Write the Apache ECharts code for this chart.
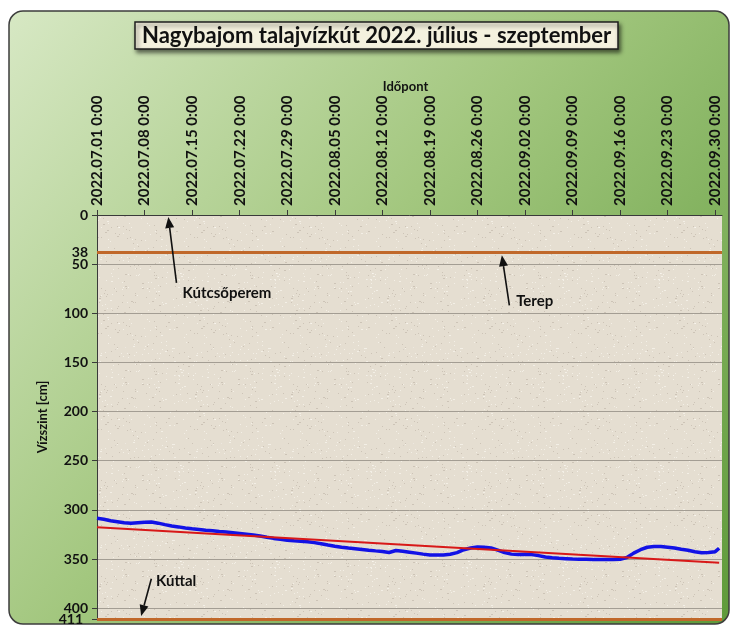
<!DOCTYPE html>
<html>
<head>
  <meta charset="utf-8" />
  <title>Nagybajom talajvízkút</title>
  <script src="https://cdn.jsdelivr.net/npm/echarts@6.0.0/dist/echarts.min.js"></script>
</head>
<style>
  body { margin: 0; padding: 0; overflow: hidden; background: #fff; }
</style>
<body>
  <div id="main" style="width: 730px; height: 631px;"></div>
  <script type="text/javascript">
    // --- adatok ---
    const startDate = '2022.07.01 0:00';
    const endDate = '2022.10.01 0:00';

    // napi vízszint mérések (cm a kútcsőperemtől)
    const levelTimes = [
      '2022.07.01 0:00', '2022.07.02 0:00', '2022.07.03 0:00', '2022.07.04 0:00', '2022.07.05 0:00', '2022.07.06 0:00', '2022.07.07 0:00', '2022.07.08 0:00',
      '2022.07.09 0:00', '2022.07.10 0:00', '2022.07.11 0:00', '2022.07.12 0:00', '2022.07.13 0:00', '2022.07.14 0:00', '2022.07.15 0:00', '2022.07.16 0:00',
      '2022.07.17 0:00', '2022.07.18 0:00', '2022.07.19 0:00', '2022.07.20 0:00', '2022.07.21 0:00', '2022.07.22 0:00', '2022.07.23 0:00', '2022.07.24 0:00',
      '2022.07.25 0:00', '2022.07.26 0:00', '2022.07.27 0:00', '2022.07.28 0:00', '2022.07.29 0:00', '2022.07.30 0:00', '2022.07.31 0:00',
      '2022.08.01 0:00', '2022.08.02 0:00', '2022.08.03 0:00', '2022.08.04 0:00', '2022.08.05 0:00', '2022.08.06 0:00', '2022.08.07 0:00', '2022.08.08 0:00',
      '2022.08.09 0:00', '2022.08.10 0:00', '2022.08.11 0:00', '2022.08.12 0:00', '2022.08.13 0:00', '2022.08.14 0:00', '2022.08.15 0:00', '2022.08.16 0:00',
      '2022.08.17 0:00', '2022.08.18 0:00', '2022.08.19 0:00', '2022.08.20 0:00', '2022.08.21 0:00', '2022.08.22 0:00', '2022.08.23 0:00', '2022.08.24 0:00',
      '2022.08.25 0:00', '2022.08.26 0:00', '2022.08.27 0:00', '2022.08.28 0:00', '2022.08.29 0:00', '2022.08.30 0:00', '2022.08.31 0:00',
      '2022.09.01 0:00', '2022.09.02 0:00', '2022.09.03 0:00', '2022.09.04 0:00', '2022.09.05 0:00', '2022.09.06 0:00', '2022.09.07 0:00', '2022.09.08 0:00',
      '2022.09.09 0:00', '2022.09.10 0:00', '2022.09.11 0:00', '2022.09.12 0:00', '2022.09.13 0:00', '2022.09.14 0:00', '2022.09.15 0:00', '2022.09.16 0:00',
      '2022.09.17 0:00', '2022.09.18 0:00', '2022.09.19 0:00', '2022.09.20 0:00', '2022.09.21 0:00', '2022.09.22 0:00', '2022.09.23 0:00', '2022.09.24 0:00',
      '2022.09.25 0:00', '2022.09.26 0:00', '2022.09.27 0:00', '2022.09.28 0:00', '2022.09.29 0:00', '2022.09.30 0:00', '2022.09.30 14:00'
    ];
    const levelCm = [
      308.5, 309.5, 311, 312, 313, 313.5, 313, 312.5, 312.3, 313.5, 315, 316.4, 317.3, 318.5, 319.3, 320,
      320.7, 321.3, 322, 322.6, 323.3, 324, 324.7, 325.5, 326.5, 327.8, 329, 330, 330.8, 331.5, 332,
      332.5, 333.3, 334.5, 335.8, 337, 338, 338.8, 339.5, 340.2, 341, 341.7, 342.3, 343.3, 341.3, 342, 343,
      344, 345, 345.8, 346, 345.8, 345.2, 343.5, 340.5, 338.8, 337.8, 338, 338.8, 341, 343.5, 345,
      345.3, 345.2, 345.5, 346.5, 348, 348.8, 349.3, 349.6, 350, 350.2, 350.3, 350.4, 350.5, 350.5, 350.4, 350.3,
      348.5, 344, 340.5, 338, 337.2, 337.2, 338, 338.8, 340, 341, 342.5, 343.5, 343.3, 342.5, 339
    ];

    // lineáris trend
    const trendTimes = ['2022.07.01 0:00', '2022.09.30 14:00'];
    const trendCm = [317.7, 353.7];

    // referencia szintek
    const refNames = ['Kútcsőperem', 'Terep', 'Kúttal'];
    const refCm = [0, 38, 411];

    // y tengely feliratai (a 411-et a vonal címkéje írja ki)
    const yLabels = [0, 38, 50, 100, 150, 200, 250, 300, 350, 400];

    // feliratok + nyilak: [szöveg helye], [nyíl vége], [nyíl hegye] (nap, cm)
    const notes = [
      { text: 'Kútcsőperem', at: [12.6, 80], from: [11.7, 69], to: [10.5, 2] },
      { text: 'Terep', at: [61.7, 88], from: [60.7, 92], to: [59.6, 41] },
      { text: 'Kúttal', at: [8.7, 372], from: [8.0, 370], to: [6.5, 408] }
    ];

    // --- segédfüggvények ---
    function parseT(s) {
      const [d, t] = s.split(' ');
      const [y, m, dd] = d.split('.').map(Number);
      const [h, mi] = t.split(':').map(Number);
      return Date.UTC(y, m - 1, dd, h, mi);
    }
    const t0 = parseT(startDate);
    const toDay = s => (parseT(s) - t0) / 86400000;
    const pad = n => (n < 10 ? '0' : '') + n;
    function dayLabel(v) {
      if (Math.abs(v % 7) > 1e-6) return '';
      const d = new Date(t0 + v * 86400000);
      return d.getUTCFullYear() + '.' + pad(d.getUTCMonth() + 1) + '.' + pad(d.getUTCDate()) + ' 0:00';
    }

    // homokos háttér minta
    function sandPattern() {
      const c = document.createElement('canvas');
      c.width = 96; c.height = 96;
      const g = c.getContext('2d');
      g.fillStyle = '#e5ded1';
      g.fillRect(0, 0, 96, 96);
      let s = 7;
      const rnd = () => (s = (s * 16807) % 2147483647) / 2147483647;
      for (let i = 0; i < 260; i++) {
        const light = rnd() > 0.5;
        g.fillStyle = light ? 'rgba(250,247,240,0.7)' : 'rgba(160,150,135,0.35)';
        g.fillRect(Math.floor(rnd() * 96), Math.floor(rnd() * 96), 1 + (rnd() > 0.85 ? 1 : 0), 1);
      }
      return c;
    }

    const myChart = echarts.init(document.getElementById('main'), null, { renderer: 'canvas' });
    const font = 'Lato, "Open Sans", sans-serif';
    const orange = '#c0682a';
    const labelStyle = { fontFamily: font, fontWeight: 'bold', fontSize: 14, color: '#111' };

    const option = {
      backgroundColor: '#ffffff',
      animation: false,
      title: {
        text: 'Nagybajom talajvízkút 2022. július - szeptember',
        left: 135,
        top: 22,
        padding: [2, 7, 1, 7],
        backgroundColor: '#f4f1de',
        borderColor: '#1e1e1e',
        borderWidth: 1.5,
        shadowBlur: 4,
        shadowColor: 'rgba(0,0,0,0.55)',
        shadowOffsetX: 2,
        shadowOffsetY: 3,
        textStyle: { fontFamily: font, fontWeight: 'bold', fontSize: 22, color: '#111', lineHeight: 24 }
      },
      grid: {
        left: 97,
        top: 215,
        right: 8,
        bottom: 12,
        show: true,
        borderWidth: 0,
        backgroundColor: { image: sandPattern(), repeat: 'repeat' },
        outerBoundsMode: 'none'
      },
      xAxis: {
        type: 'value',
        position: 'top',
        min: 0,
        max: toDay(endDate),
        interval: 7,
        axisLine: { show: true, lineStyle: { color: '#3a3a3a', width: 1 } },
        axisTick: { show: true, length: 5, lineStyle: { color: '#3a3a3a' } },
        axisLabel: Object.assign({
          rotate: 90,
          margin: 9,
          formatter: dayLabel,
          showMaxLabel: false
        }, labelStyle, { fontSize: 15 }),
        splitLine: { show: false }
      },
      yAxis: {
        type: 'value',
        inverse: true,
        min: 0,
        max: 411,
        interval: 50,
        name: 'Vízszint [cm]',
        nameLocation: 'middle',
        nameGap: 48,
        nameTextStyle: { fontFamily: font, fontWeight: 'bold', fontSize: 13, color: '#111' },
        axisLine: { show: true, lineStyle: { color: '#3a3a3a', width: 1 } },
        axisTick: { show: true, length: 5, lineStyle: { color: '#3a3a3a' } },
        axisLabel: Object.assign({
          customValues: yLabels,
          margin: 9,
          showMinLabel: true
        }, labelStyle),
        splitLine: { show: true, lineStyle: { color: '#a39d93', width: 1 } }
      },
      series: [
        {
          name: 'Vízszint',
          type: 'line',
          data: levelTimes.map((t, i) => [toDay(t), levelCm[i]]),
          showSymbol: false,
          lineStyle: { color: '#1212e6', width: 3.5 },
          z: 3,
          markLine: {
            silent: true,
            symbol: 'none',
            lineStyle: { color: orange, width: 3, type: 'solid' },
            data: refCm.filter(v => v > 0).map(v => ({
              yAxis: v,
              label: v === 411
                ? Object.assign({ show: true, position: 'start', distance: 14, formatter: String(v), lineHeight: 12 }, labelStyle)
                : { show: false }
            }))
          }
        },
        {
          name: 'Trend',
          type: 'line',
          data: trendTimes.map((t, i) => [toDay(t), trendCm[i]]),
          showSymbol: false,
          lineStyle: { color: '#d81818', width: 2 },
          z: 4
        }
      ]
    };
    myChart.setOption(option);

    // háttér panel + feliratok nyilakkal
    function arrow(from, to) {
      const a = myChart.convertToPixel({ gridIndex: 0 }, from);
      const b = myChart.convertToPixel({ gridIndex: 0 }, to);
      const ang = Math.atan2(b[1] - a[1], b[0] - a[0]);
      const L = 11, W = 4.5;
      const bx = b[0] - L * Math.cos(ang), by = b[1] - L * Math.sin(ang);
      return [
        { type: 'line', shape: { x1: a[0], y1: a[1], x2: bx, y2: by }, style: { stroke: '#111', lineWidth: 1.6 }, z: 10 },
        {
          type: 'polygon', z: 10,
          shape: { points: [b, [bx + W * Math.sin(ang), by - W * Math.cos(ang)], [bx - W * Math.sin(ang), by + W * Math.cos(ang)]] },
          style: { fill: '#111' }
        }
      ];
    }
    const gridRect = myChart.getModel().getComponent('grid', 0).coordinateSystem.getRect();
    const graphics = [
      {
        type: 'rect', z: -100, silent: true,
        shape: { x: 9, y: 11, width: 720, height: 613, r: 14 },
        style: {
          fill: new echarts.graphic.LinearGradient(0, 0, 1, 1, [
            { offset: 0, color: '#d7e8c4' },
            { offset: 0.45, color: '#a3c77f' },
            { offset: 1, color: '#5e9a3a' }
          ]),
          stroke: '#3d3d3d', lineWidth: 1.5
        }
      },
      {
        // x tengely címe
        type: 'text', z: 10, x: gridRect.x + gridRect.width / 2 - 4, y: 87,
        style: { text: 'Időpont', fontFamily: font, fontWeight: 'bold', fontSize: 13, fill: '#111', align: 'center', verticalAlign: 'middle' }
      }
    ];
    notes.forEach(n => {
      const p = myChart.convertToPixel({ gridIndex: 0 }, n.at);
      graphics.push({
        type: 'text', z: 10, x: p[0], y: p[1],
        style: { text: n.text, fontFamily: font, fontWeight: 'bold', fontSize: 15, fill: '#111', verticalAlign: 'middle', align: 'left' }
      });
      arrow(n.from, n.to).forEach(g => graphics.push(g));
    });
    myChart.setOption({ graphic: graphics });
  </script>
</body>
</html>
